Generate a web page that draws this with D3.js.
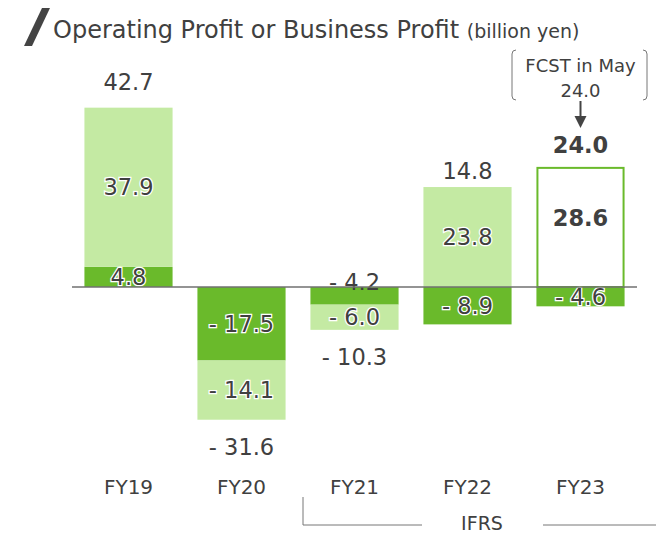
<!DOCTYPE html>
<html>
<head>
<meta charset="utf-8">
<script src="https://cdn.jsdelivr.net/npm/d3@7"></script>
<style>
  body { margin: 0; background: #fff; }
  #chart { width: 656px; height: 534px; }
  text { font-family: Verdana, "DejaVu Sans", sans-serif; fill: #404040; }
</style>
</head>
<body>
<div id="chart"></div>
<script>
// values (billion yen)
const years = ["FY19", "FY20", "FY21", "FY22", "FY23"];
const businessProfit = [4.8, -17.5, -4.2, -8.9, -4.6];   // dark green
const otherProfit = [37.9, -14.1, -6.0, 23.8, 28.6];     // light green
const totals = [42.7, -31.6, -10.3, 14.8, 24.0];
const forecastYear = "FY23";
const mayForecast = 24.0;

/*
  SVG CANVAS
*/
const width = 656, height = 534;
const dark = "#6aba2b", light = "#c4eaa3";

const canvas = d3.select("#chart")
  .append("svg")
  .attr("width", width)
  .attr("height", height);

/*
  SCALES
*/
const xScale = d3.scaleBand()
  .domain(years)
  .range([72, 637])
  .paddingInner(0.22)
  .paddingOuter(0.11);

const yScale = d3.scaleLinear()
  .domain([-40, 50])
  .range([455, 77]);

const fmt = v => v < 0 ? "- " + Math.abs(v).toFixed(1) : v.toFixed(1);

// build segments: dark starts at zero, light stacks on dark if same sign
const segs = [];
years.forEach(function(yr, i) {
  const b = businessProfit[i], o = otherProfit[i];
  segs.push({year: yr, kind: "dark", y0: 0, y1: b, v: b});
  const base = Math.sign(o) === Math.sign(b) ? b : 0;
  segs.push({year: yr, kind: "light", y0: base, y1: base + o, v: o});
});
const isFcst = d => d.year === forecastYear && d.kind === "light";

/*
  TITLE
*/
canvas.append("polygon")
  .attr("points", "24,46 32,46 50,8 42,8")
  .attr("fill", "#444");

const title = canvas.append("text")
  .attr("x", 53)
  .attr("y", 38)
  .style("font-size", "24px");
title.append("tspan").text("Operating Profit or Business Profit ");
title.append("tspan").style("font-size", "19px").text("(billion yen)");

/*
  BARS
*/
canvas.selectAll("rect.seg")
  .data(segs)
  .enter()
  .append("rect")
  .attr("class", "seg")
  .attr("x", d => xScale(d.year) + (isFcst(d) ? 1 : 0))
  .attr("width", d => xScale.bandwidth() - (isFcst(d) ? 2 : 0))
  .attr("y", d => yScale(Math.max(d.y0, d.y1)) + (isFcst(d) ? 1 : 0))
  .attr("height", d => Math.abs(yScale(d.y0) - yScale(d.y1)) - (isFcst(d) ? 1 : 0))
  .attr("fill", d => d.kind === "dark" ? dark : (isFcst(d) ? "#fff" : light))
  .attr("stroke", d => isFcst(d) ? dark : "none")
  .attr("stroke-width", 2);

/*
  SEGMENT LABELS
*/
const segH = d => Math.abs(yScale(d.y0) - yScale(d.y1));
canvas.selectAll("text.seglabel")
  .data(segs)
  .enter()
  .append("text")
  .attr("class", "seglabel")
  .attr("x", d => xScale(d.year) + xScale.bandwidth() / 2)
  .attr("y", function(d) {
    if (segH(d) < 18.5) return yScale(0) + 3;   // too thin: sit on the axis line
    let c = (yScale(d.y0) + yScale(d.y1)) / 2 + 8;
    if (isFcst(d)) c -= 9;
    return c;
  })
  .attr("text-anchor", "middle")
  .style("font-size", "22.5px")
  .style("font-weight", d => isFcst(d) ? "bold" : "normal")
  .attr("stroke", d => (segH(d) < 18.5 || isFcst(d)) ? "none" : "#fff")
  .attr("stroke-width", 2.5)
  .attr("paint-order", "stroke")
  .text(d => fmt(d.v));

/*
  TOTAL LABELS
*/
const totalGap = {FY19: 18, FY22: 8, FY23: 14};
canvas.selectAll("text.total")
  .data(years)
  .enter()
  .append("text")
  .attr("class", "total")
  .attr("x", d => xScale(d) + xScale.bandwidth() / 2)
  .attr("y", function(d, i) {
    const mine = segs.filter(s => s.year === d);
    const hi = d3.max(mine, s => Math.max(s.y0, s.y1));
    const lo = d3.min(mine, s => Math.min(s.y0, s.y1));
    if (totals[i] >= 0) return yScale(hi) - totalGap[d];
    return yScale(lo) + 35;
  })
  .attr("text-anchor", "middle")
  .style("font-size", "22.5px")
  .style("font-weight", d => d === forecastYear ? "bold" : "normal")
  .text((d, i) => fmt(totals[i]));

/*
  FORECAST CALLOUT
*/
const fx = xScale(forecastYear) + xScale.bandwidth() / 2;
canvas.append("path")
  .attr("d", "M516,50 Q512,50 512,54 L512,96 Q512,100 516,100")
  .attr("fill", "none").attr("stroke", "#777").attr("stroke-width", 1);
canvas.append("path")
  .attr("d", "M643,50 Q647,50 647,54 L647,96 Q647,100 643,100")
  .attr("fill", "none").attr("stroke", "#777").attr("stroke-width", 1);
canvas.append("text")
  .attr("x", fx).attr("y", 72)
  .attr("text-anchor", "middle")
  .style("font-size", "18px")
  .text("FCST in May");
canvas.append("text")
  .attr("x", fx).attr("y", 97)
  .attr("text-anchor", "middle")
  .style("font-size", "18px")
  .text(mayForecast.toFixed(1));
canvas.append("line")
  .attr("x1", fx).attr("x2", fx)
  .attr("y1", 101).attr("y2", 118)
  .attr("stroke", "#444").attr("stroke-width", 2);
canvas.append("polygon")
  .attr("points", `${fx - 6},116 ${fx + 6},116 ${fx},128`)
  .attr("fill", "#444");

/*
  ZERO LINE
*/
canvas.append("line")
  .attr("x1", xScale.range()[0]).attr("x2", xScale.range()[1])
  .attr("y1", yScale(0)).attr("y2", yScale(0))
  .attr("stroke", "#707070").attr("stroke-width", 1.5);

/*
  CATEGORY LABELS
*/
canvas.selectAll("text.cat")
  .data(years)
  .enter()
  .append("text")
  .attr("class", "cat")
  .attr("x", d => xScale(d) + xScale.bandwidth() / 2)
  .attr("y", 494)
  .attr("text-anchor", "middle")
  .style("font-size", "20px")
  .text(d => d);

// IFRS bracket
canvas.append("path")
  .attr("d", "M303,497 L303,525 L422,525 M543,525 L656,525")
  .attr("fill", "none").attr("stroke", "#777").attr("stroke-width", 1);
canvas.append("text")
  .attr("x", 482).attr("y", 530)
  .attr("text-anchor", "middle")
  .style("font-size", "19px")
  .text("IFRS");
</script>
</body>
</html>
